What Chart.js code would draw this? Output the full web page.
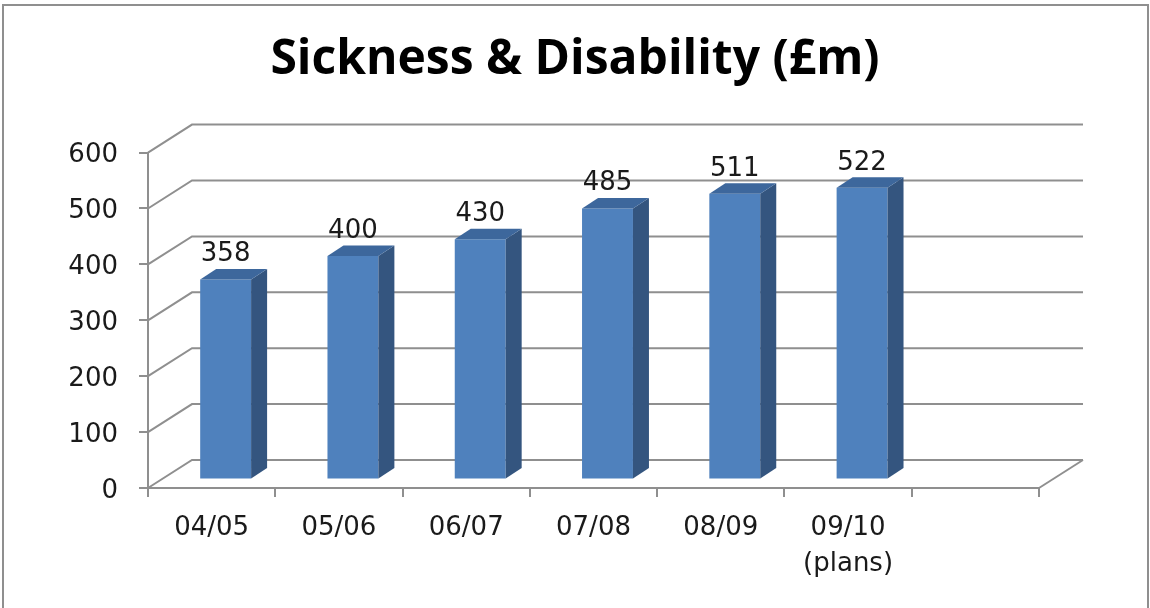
<!DOCTYPE html>
<html>
<head>
<meta charset="utf-8">
<script src="https://cdn.jsdelivr.net/npm/chart.js@4/dist/chart.umd.min.js"></script>
<style>
  body { margin: 0; background: #fff; }
</style>
</head>
<body>
<canvas id="sickness-chart" width="1150" height="608"></canvas>
<script>
// dati
var years  = ['04/05', '05/06', '06/07', '07/08', '08/09', ['09/10', '(plans)'], ''];
var spend  = [358, 400, 430, 485, 511, 522, null];
var yTicks = [0, 100, 200, 300, 400, 500, 600];

var gridColor = '#8f8f8f';
var wall = {x: 44, y: -28};      // profondita' pareti
var shift = {x: 14, y: -8.5};    // barre spostate dentro la scena
var deep = {x: 16, y: -10.5};    // profondita' barre

// pareti, griglia posteriore e cornice
const wallsPlugin = {
    id: 'walls',
    beforeDraw(chart) {
        const ctx = chart.ctx;
        const area = chart.chartArea;
        const y = chart.scales.y;
        ctx.save();
        ctx.strokeStyle = gridColor;
        ctx.lineWidth = 2;
        // cornice
        ctx.strokeRect(3, 5, 1145, 620);
        yTicks.forEach(function(v){
            var py = y.getPixelForValue(v);
            ctx.beginPath();
            ctx.moveTo(area.left, py);
            ctx.lineTo(area.left + wall.x, py + wall.y);
            ctx.lineTo(area.right + wall.x, py + wall.y);
            ctx.stroke();
        });
        // pavimento lato destro
        ctx.beginPath();
        ctx.moveTo(area.right, area.bottom);
        ctx.lineTo(area.right + wall.x, area.bottom + wall.y);
        ctx.stroke();
        ctx.restore();
    },
    beforeDatasetsDraw(chart) {
        chart.ctx.save();
        chart.ctx.translate(shift.x, shift.y);
    },
    afterDatasetsDraw(chart) {
        const ctx = chart.ctx;
        const meta = chart.getDatasetMeta(0);
        meta.data.forEach(function(bar, i){
            if (spend[i] === null) return;
            var p = bar.getProps(['x', 'y', 'base', 'width']);
            var l = p.x - p.width / 2, r = p.x + p.width / 2;
            // lato
            ctx.fillStyle = '#34557f';
            ctx.beginPath();
            ctx.moveTo(r, p.y);
            ctx.lineTo(r + deep.x, p.y + deep.y);
            ctx.lineTo(r + deep.x, p.base + deep.y);
            ctx.lineTo(r, p.base);
            ctx.closePath();
            ctx.fill();
            // sopra
            ctx.fillStyle = '#3d679c';
            ctx.beginPath();
            ctx.moveTo(l, p.y);
            ctx.lineTo(l + deep.x, p.y + deep.y);
            ctx.lineTo(r + deep.x, p.y + deep.y);
            ctx.lineTo(r, p.y);
            ctx.closePath();
            ctx.fill();
            // etichetta
            ctx.fillStyle = '#1a1a1a';
            ctx.font = '26px "DejaVu Sans"';
            ctx.textAlign = 'center';
            ctx.textBaseline = 'alphabetic';
            ctx.fillText(String(spend[i]), p.x, p.y - 18);
        });
        ctx.restore();
    }
};

Chart.defaults.font.family = '"DejaVu Sans", Verdana, sans-serif';
Chart.defaults.color = '#1a1a1a';

var ctx = document.getElementById('sickness-chart').getContext('2d');
var sicknessChart = new Chart(ctx, {
    type: 'bar',
    data: {
        labels: years,
        datasets: [{
            data: spend,
            backgroundColor: '#4f81bd',
            borderWidth: 0,
            categoryPercentage: 1,
            barPercentage: 0.4
        }]
    },
    options: {
        responsive: false,
        animation: false,
        layout: { padding: 0 },
        plugins: {
            legend: { display: false },
            tooltip: { enabled: false },
            title: {
                display: true,
                text: 'Sickness & Disability (£m)',
                color: '#000',
                font: { family: '"Open Sans", Lato, sans-serif', size: 48, weight: 'bold', lineHeight: 1.2 },
                padding: { top: 32, bottom: 63 }
            }
        },
        scales: {
            x: {
                afterFit: function(scale){ scale.height = 120; },
                grid: { drawOnChartArea: false, tickLength: 9, color: gridColor, lineWidth: 2, offset: true },
                border: { color: gridColor, width: 2 },
                ticks: { padding: 14, font: { size: 26, lineHeight: 1.36 }, maxRotation: 0, autoSkip: false }
            },
            y: {
                min: 0,
                max: 600,
                afterFit: function(scale){ scale.width = 148; },
                grid: { drawOnChartArea: false, tickLength: 9, color: gridColor, lineWidth: 2 },
                border: { color: gridColor, width: 2 },
                ticks: { stepSize: 100, padding: 21, labelOffset: 3, font: { size: 26 } }
            },
            // spazio vuoto a destra della scena
            destra: {
                type: 'linear',
                position: 'right',
                afterFit: function(scale){ scale.width = 111; },
                grid: { display: false },
                border: { display: false },
                ticks: { display: false }
            }
        }
    },
    plugins: [wallsPlugin]
});
</script>
</body>
</html>
